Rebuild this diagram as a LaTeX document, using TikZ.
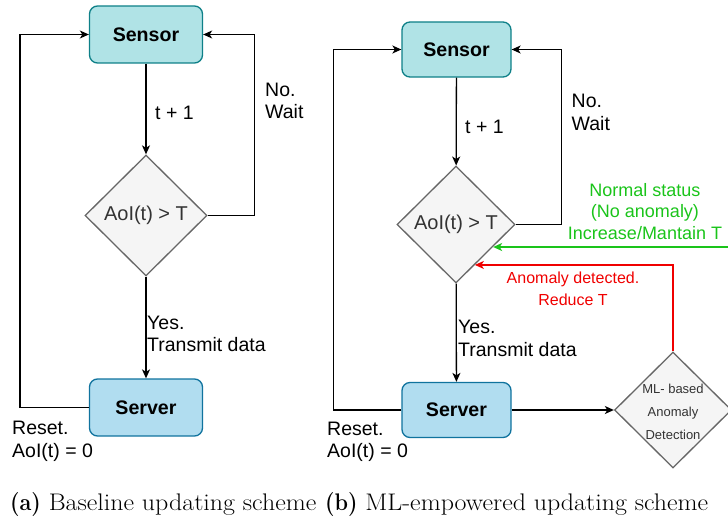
\documentclass[tikz,border=0pt]{standalone}
\usepackage{fontspec}
\newfontfamily\arial{Liberation Sans}
\newfontfamily\capserif{Latin Modern Roman}[FakeStretch=1.08, BoldFeatures={FakeStretch=0.9}]
\usetikzlibrary{shapes.geometric,arrows.meta,calc}
\definecolor{tealfill}{HTML}{B0E3E6}
\definecolor{tealline}{HTML}{0E8088}
\definecolor{bluefill}{HTML}{B1DDF0}
\definecolor{blueline}{HTML}{10739E}
\definecolor{grayfill}{HTML}{F5F5F5}
\definecolor{grayline}{HTML}{666666}
\definecolor{graytext}{HTML}{333333}
\definecolor{mygreen}{RGB}{26,196,26}
\definecolor{myred}{RGB}{240,0,0}
\begin{document}
\begin{tikzpicture}[x=1pt,y=-1pt,
  sensorbox/.style={draw=tealline, fill=tealfill, rounded corners=8pt, line width=1.3pt,
    font=\arial\bfseries\fontsize{19.6}{22}\selectfont, inner sep=0pt},
  serverbox/.style={draw=blueline, fill=bluefill, rounded corners=8pt, line width=1.3pt,
    font=\arial\bfseries\fontsize{19.6}{22}\selectfont, inner sep=0pt},
  decision/.style={diamond, draw=grayline, fill=grayfill, line width=1.3pt, inner sep=0pt,
    text=graytext, font=\arial\fontsize{20}{22}\selectfont},
  arr/.style={line width=1.3pt, -{Stealth[length=9pt,width=8pt,inset=2.5pt]}},
  lbl/.style={font=\arial\fontsize{19.5}{22.5}\selectfont, align=left, inner sep=0pt},
  captxt/.style={anchor=base west, inner sep=0pt, font=\capserif\fontsize{24}{28}\selectfont},
]
\useasboundingbox (0,0) rectangle (728,519);
% ---------- (a) ----------
\node[sensorbox, minimum width=113pt, minimum height=57pt] (sensA) at (146,34.5) {Sensor};
\node[decision, minimum width=122pt, minimum height=121pt] (dA) at (146,215.5) {AoI(t) > T};
\node[serverbox, minimum width=113pt, minimum height=57pt] (servA) at (146,407.5) {Server};
\draw[arr] (sensA) -- (dA);
\draw[arr] (dA) -- (servA);
\draw[arr] (dA.east) -- ++(47,0) |- (sensA.east);
\draw[arr] (servA.west) -- ++(-69,0) |- (sensA.west);
\node[lbl, anchor=west] (tA) at (155,113) {t + 1};
\node[lbl, anchor=west] (yA) at (147,334) {Yes.\\Transmit data};
\node[lbl, anchor=west] (nA) at (265,101) {No.\\Wait};
\node[lbl, anchor=west] (rA) at (12,441.5) {Reset.\\AoI(t) = 0};
% ---------- (b) ----------
\node[sensorbox, minimum width=109pt, minimum height=55pt] (sensB) at (456.5,49.5) {Sensor};
\node[decision, minimum width=118pt, minimum height=117pt] (dB) at (456,224.5) {AoI(t) > T};
\node[serverbox, minimum width=109pt, minimum height=55pt] (servB) at (456.5,410) {Server};
\node[decision, minimum width=117pt, minimum height=116pt] (ml) at (673,410) {};
\node[font=\arial\fontsize{13}{23}\selectfont, text=graytext, align=center, inner sep=0pt] (mlt) at (673,412) {ML- based\\Anomaly\\Detection};
\draw[arr] (sensB) -- (dB);
\draw[arr] (dB) -- (servB);
\draw[arr] (dB.east) -- ++(45.5,0) |- (sensB.east);
\draw[arr] (servB.west) -- ++(-68,0) |- (sensB.west);
\draw[arr] (servB) -- (ml);
\coordinate (gin) at (728,247);
\draw[arr, color=mygreen] (gin) -- (gin -| dB.-31.8);
\draw[arr, color=myred] (ml.north) |- (dB.-65);
\node[lbl, anchor=west] (tB) at (465,127) {t + 1};
\node[lbl, anchor=west] (yB) at (458,338.5) {Yes.\\Transmit data};
\node[lbl, anchor=west] (nB) at (571.5,112.5) {No.\\Wait};
\node[lbl, anchor=west] (rB) at (327,442) {Reset.\\AoI(t) = 0};
\node[font=\arial\fontsize{18}{21.5}\selectfont, text=mygreen, align=center, inner sep=0pt] (gl) at (645,211.5) {Normal status\\(No anomaly)\\Increase/Mantain T};
\node[font=\arial\fontsize{16}{21.5}\selectfont, text=myred, align=center, inner sep=0pt] (rl) at (573,289) {Anomaly detected.\\Reduce T};
% ---------- captions ----------
\node[captxt] (capA) at (10,510.5) {\textbf{(a)} Baseline updating scheme};
\node[captxt] (capB) at (325,510.5) {\textbf{(b)} ML-empowered updating scheme};
\end{tikzpicture}
\end{document}
